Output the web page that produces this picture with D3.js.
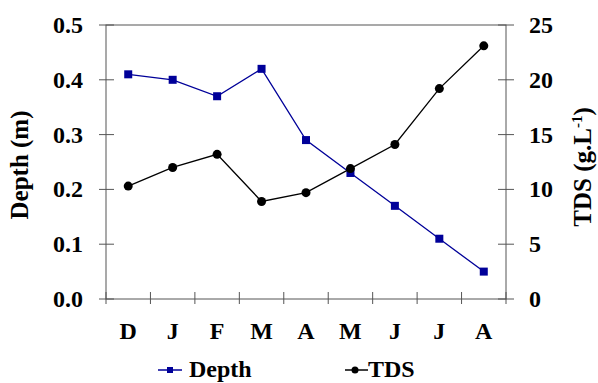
<!DOCTYPE html>
<html>
<head>
<meta charset="utf-8">
<script src="https://cdn.jsdelivr.net/npm/d3@7"></script>
<style>
  body { margin: 0; background: #fff; }
</style>
</head>
<body>
<div id="chart"></div>
<script>
// Data
var months = ["D", "J", "F", "M", "A", "M", "J", "J", "A"];
var depth = [0.41, 0.40, 0.37, 0.42, 0.29, 0.23, 0.17, 0.11, 0.05];
var tds = [10.3, 12.0, 13.2, 8.9, 9.7, 11.9, 14.1, 19.2, 23.1];
var depthTicks = [0, 0.1, 0.2, 0.3, 0.4, 0.5];
var tdsTicks = [0, 5, 10, 15, 20, 25];

var svgWidth = 598;
var svgHeight = 383;
var margin = { top: 25, right: 92, bottom: 84, left: 106 };
var width = svgWidth - margin.left - margin.right;
var height = svgHeight - margin.top - margin.bottom;

var svg = d3.select("#chart")
    .append("svg")
    .attr("width", svgWidth)
    .attr("height", svgHeight)
    .attr("font-family", "Liberation Serif")
    .attr("font-weight", "bold");

var chartGroup = svg.append("g").attr("transform", `translate(${margin.left}, ${margin.top})`);

var idx = months.map((m, i) => i);
var xScale = d3.scaleBand().domain(idx).range([0, width]);
var yLeft = d3.scaleLinear().domain([0, 0.5]).range([height, 0]);
var yRight = d3.scaleLinear().domain([0, 25]).range([height, 0]);

var axisColor = "#555";

// plot box
chartGroup.append("rect")
    .attr("width", width).attr("height", height)
    .attr("fill", "none").attr("stroke", axisColor).attr("stroke-width", 1);

// left axis ticks (crossing)
chartGroup.selectAll(".lt").data(depthTicks).enter().append("line")
    .attr("x1", -7).attr("x2", 8)
    .attr("y1", d => yLeft(d)).attr("y2", d => yLeft(d))
    .attr("stroke", axisColor);
chartGroup.selectAll(".ll").data(depthTicks).enter().append("text")
    .attr("x", -23).attr("y", d => yLeft(d) + 8)
    .attr("text-anchor", "end").attr("font-size", 24)
    .text(d => d.toFixed(1));

// right axis ticks
chartGroup.selectAll(".rt").data(tdsTicks).enter().append("line")
    .attr("x1", width - 8).attr("x2", width + 8)
    .attr("y1", d => yRight(d)).attr("y2", d => yRight(d))
    .attr("stroke", axisColor);
chartGroup.selectAll(".rl").data(tdsTicks).enter().append("text")
    .attr("x", width + 23).attr("y", d => yRight(d) + 8)
    .attr("text-anchor", "start").attr("font-size", 24)
    .text(d => d);

// bottom ticks at band boundaries
var bounds = idx.map(i => xScale(i)).concat([width]);
chartGroup.selectAll(".bt").data(bounds).enter().append("line")
    .attr("x1", d => d).attr("x2", d => d)
    .attr("y1", height - 7).attr("y2", height + 5)
    .attr("stroke", axisColor);
chartGroup.selectAll(".bl").data(idx).enter().append("text")
    .attr("x", i => xScale(i) + xScale.bandwidth() / 2)
    .attr("y", height + 40)
    .attr("text-anchor", "middle").attr("font-size", 24)
    .text(i => months[i]);

// axis titles
svg.append("text")
    .attr("transform", "translate(28, 165) rotate(-90)")
    .attr("text-anchor", "middle").attr("font-size", 25)
    .text("Depth (m)");
var tdsTitle = svg.append("text")
    .attr("transform", "translate(591, 167) rotate(-90)")
    .attr("text-anchor", "middle").attr("font-size", 25);
tdsTitle.append("tspan").text("TDS (g.L");
tdsTitle.append("tspan").attr("dy", -9).attr("font-size", 15).text("-1");
tdsTitle.append("tspan").attr("dy", 9).text(")");

var cx = i => xScale(i) + xScale.bandwidth() / 2;
var navy = "#000099";

// depth line
chartGroup.append("path")
    .datum(idx)
    .attr("fill", "none").attr("stroke", navy).attr("stroke-width", 1.3)
    .attr("d", d3.line().x(cx).y(i => yLeft(depth[i])));
chartGroup.selectAll(".sq").data(idx).enter().append("rect")
    .attr("x", i => cx(i) - 4).attr("y", i => yLeft(depth[i]) - 4)
    .attr("width", 8).attr("height", 8)
    .attr("fill", navy);

// TDS line
chartGroup.append("path")
    .datum(idx)
    .attr("fill", "none").attr("stroke", "#000").attr("stroke-width", 1.3)
    .attr("d", d3.line().x(cx).y(i => yRight(tds[i])));
chartGroup.selectAll(".dot").data(idx).enter().append("circle")
    .attr("cx", cx).attr("cy", i => yRight(tds[i]))
    .attr("r", 4.5).attr("fill", "#000");

// legend
var leg = svg.append("g");
leg.append("line").attr("x1", 158).attr("x2", 182).attr("y1", 370).attr("y2", 370)
    .attr("stroke", navy).attr("stroke-width", 1.5);
leg.append("rect").attr("x", 167).attr("y", 367).attr("width", 6).attr("height", 6).attr("fill", navy);
leg.append("text").attr("x", 189).attr("y", 377).attr("font-size", 24).text("Depth");
leg.append("line").attr("x1", 345).attr("x2", 368).attr("y1", 370).attr("y2", 370)
    .attr("stroke", "#000").attr("stroke-width", 1.5);
leg.append("circle").attr("cx", 355).attr("cy", 370).attr("r", 3.5).attr("fill", "#000");
leg.append("text").attr("x", 368).attr("y", 377).attr("font-size", 24).text("TDS");
</script>
</body>
</html>
